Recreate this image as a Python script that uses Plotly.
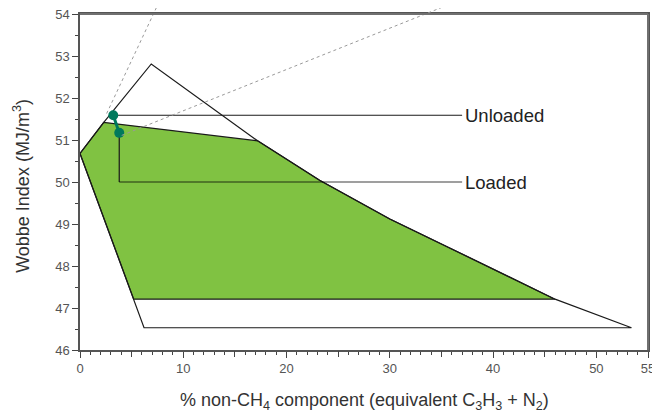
import plotly.graph_objects as go

# ---- data ----
outer_x = [0, 2.3, 6.9, 17.2, 23.2, 30.0, 35.8, 42.6, 46.0, 53.4, 6.2, 0]
outer_y = [50.68, 51.42, 52.81, 50.98, 50.04, 49.12, 48.43, 47.61, 47.21, 46.53, 46.53, 50.68]

green_x = [0, 2.3, 17.2, 23.2, 30.0, 35.8, 42.6, 46.0, 5.2, 0]
green_y = [50.68, 51.42, 50.98, 50.04, 49.12, 48.43, 47.61, 47.21, 47.21, 50.68]

point_names = ["Unloaded", "Loaded"]
point_x = [3.22, 3.80]
point_y = [51.59, 51.17]
label_end_x = 37.0
loaded_label_y = 50.0

guide1_x = [2.58, 7.74]
guide1_y = [51.63, 54.33]
guide2_x = [4.04, 36.79]
guide2_y = [51.11, 54.33]

x_range = [0, 55]
y_range = [46, 54]
x_tickvals = [0, 10, 20, 30, 40, 50, 55]
x_ticktext = ["0", "10", "20", "30", "40", "50", "55"]
x_midticks = [5, 15, 25, 35, 45]
y_tickvals = [46, 47, 48, 49, 50, 51, 52, 53, 54]

x_title = "% non-CH<sub>4</sub> component (equivalent C<sub>3</sub>H<sub>3</sub> + N<sub>2</sub>)"
y_title = "Wobbe Index (MJ/m<sup>3</sup>)"

GREEN = "#80c242"
TEAL = "#00795c"
FONT = "Liberation Sans, Arial, sans-serif"

fig = go.Figure()

# green region
fig.add_trace(go.Scatter(x=green_x, y=green_y, mode="lines", fill="toself",
                         fillcolor=GREEN, line=dict(color="#1a1a1a", width=1.2),
                         hoverinfo="skip", showlegend=False))
# outer envelope
fig.add_trace(go.Scatter(x=outer_x, y=outer_y, mode="lines",
                         line=dict(color="#1a1a1a", width=1.2),
                         hoverinfo="skip", showlegend=False))

# Unloaded label line
fig.add_trace(go.Scatter(x=[point_x[0], label_end_x], y=[point_y[0], point_y[0]],
                         mode="lines", line=dict(color="#1a1a1a", width=1.1),
                         hoverinfo="skip", showlegend=False))
# Loaded label line (vertical then horizontal)
fig.add_trace(go.Scatter(x=[point_x[1], point_x[1]], y=[point_y[1], loaded_label_y],
                         mode="lines", line=dict(color="#1a1a1a", width=1.2),
                         hoverinfo="skip", showlegend=False))
fig.add_trace(go.Scatter(x=[point_x[1], label_end_x], y=[loaded_label_y, loaded_label_y],
                         mode="lines", line=dict(color="rgba(0,0,0,0.5)", width=1.6),
                         hoverinfo="skip", showlegend=False))

# points
fig.add_trace(go.Scatter(x=point_x, y=point_y, mode="lines+markers",
                         line=dict(color=TEAL, width=3),
                         marker=dict(color=TEAL, size=10),
                         hoverinfo="skip", showlegend=False))

# invisible anchor trace for the secondary x axis (mid ticks)
fig.add_trace(go.Scatter(x=[x_range[0]], y=[y_range[0]], xaxis="x2", mode="markers",
                         marker=dict(opacity=0), hoverinfo="skip", showlegend=False))

# dotted guide lines in paper coords (extend above plot)
def px(v):
    return (v - x_range[0]) / (x_range[1] - x_range[0])

def py(v):
    return (v - y_range[0]) / (y_range[1] - y_range[0])

shapes = []
for gx, gy in [(guide1_x, guide1_y), (guide2_x, guide2_y)]:
    shapes.append(dict(type="line", xref="paper", yref="paper",
                       x0=px(gx[0]), y0=py(gy[0]), x1=px(gx[1]), y1=py(gy[1]),
                       line=dict(color="#9a9a9a", width=1, dash="dot"), layer="above"))
# top and right frame lines
shapes.append(dict(type="line", xref="paper", yref="paper", x0=0, y0=1, x1=1, y1=1,
                   line=dict(color="#707070", width=2), layer="above"))
shapes.append(dict(type="line", xref="paper", yref="paper", x0=1, y0=0, x1=1, y1=1,
                   line=dict(color="#707070", width=2), layer="above"))

annotations = []
for name, yy in [(point_names[0], point_y[0]), (point_names[1], loaded_label_y)]:
    annotations.append(dict(x=label_end_x, y=yy, xref="x", yref="y", text=name,
                            showarrow=False, xanchor="left", yanchor="middle", xshift=1,
                            font=dict(family=FONT, size=18.5, color="#222")))
# axis titles
annotations.append(dict(x=0.5, y=-0.154, xref="paper", yref="paper", text=x_title,
                        showarrow=False, xanchor="center", yanchor="middle",
                        font=dict(family=FONT, size=18, color="#333")))
annotations.append(dict(x=-0.103, y=0.49, xref="paper", yref="paper", text=y_title,
                        showarrow=False, xanchor="center", yanchor="middle", textangle=-90,
                        font=dict(family=FONT, size=18, color="#333")))

# page body has an 8px margin; size/margins compensate so the plot area lands
# at x 80..648, y 14..350 in the 660x412 window
fig.update_layout(
    width=652, height=404,
    margin=dict(l=72, r=12, t=6, b=62, autoexpand=False),
    paper_bgcolor="white", plot_bgcolor="white",
    font=dict(family=FONT, color="#555"),
    shapes=shapes, annotations=annotations,
    xaxis=dict(range=x_range, tickmode="array", tickvals=x_tickvals, ticktext=x_ticktext,
               ticks="outside", ticklen=6, tickwidth=1.2, tickcolor="#444",
               showline=True, mirror=True, linecolor="#555", linewidth=1.5,
               showgrid=False, zeroline=False, ticklabeloverflow="allow",
               tickfont=dict(size=13, color="#555"), automargin=False,
               minor=dict(tickmode="linear", tick0=0, dtick=1, ticks="outside",
                          ticklen=3, tickcolor="#444", tickwidth=1, showgrid=False)),
    xaxis2=dict(range=x_range, overlaying="x", side="bottom", anchor="y",
                tickmode="array", tickvals=x_midticks, ticks="outside", ticklen=6,
                tickwidth=1.2, tickcolor="#444", showticklabels=False, showline=False,
                showgrid=False, zeroline=False, automargin=False),
    yaxis=dict(range=y_range, tickmode="array", tickvals=y_tickvals,
               ticks="outside", ticklen=6, tickwidth=1.2, tickcolor="#444",
               showline=True, mirror=True, linecolor="#555", linewidth=1.5,
               showgrid=False, zeroline=False, ticklabeloverflow="allow",
               tickfont=dict(size=13, color="#555"), automargin=False,
               minor=dict(tickmode="linear", tick0=46, dtick=0.5, ticks="outside",
                          ticklen=3, tickcolor="#444", tickwidth=1, showgrid=False)),
)

fig.write_html("out.html")
